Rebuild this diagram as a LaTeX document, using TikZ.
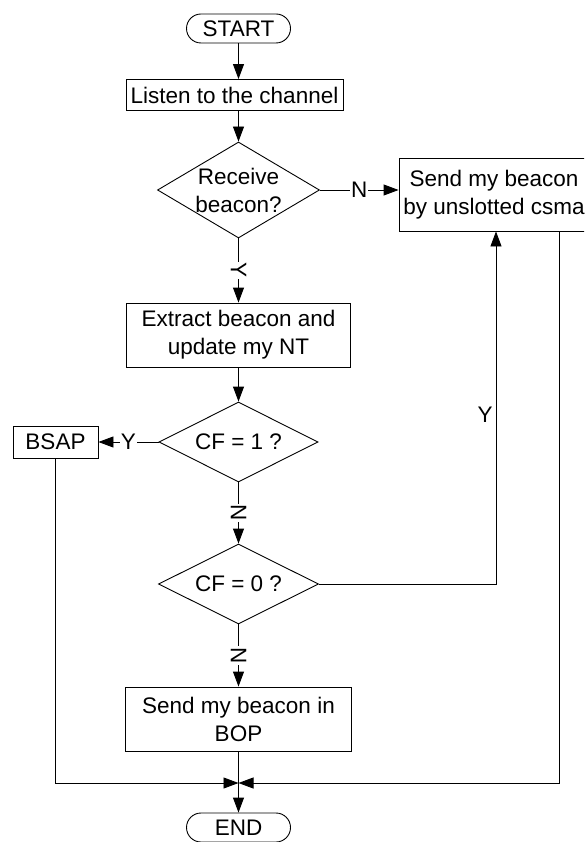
\documentclass[tikz,border=0pt]{standalone}
\usepackage{fontspec}
\setmainfont{Liberation Sans}
\usetikzlibrary{shapes.geometric,arrows.meta}
\begin{document}
\begin{tikzpicture}[x=1pt,y=-1pt,
  every node/.style={font=\fontsize{22.5}{28}\selectfont},
  box/.style={draw, line width=0.9pt, inner sep=0pt, align=center},
  term/.style={draw, line width=0.9pt, rounded corners=14.5pt, minimum width=104pt, minimum height=29pt, inner sep=0pt},
  dia/.style={draw, line width=0.9pt, diamond, inner sep=0pt},
  lbl/.style={fill=white, inner sep=1pt},
  conn/.style={line width=0.9pt},
  arr/.style={conn, -{Triangle[length=15pt,width=11pt]}}]
\useasboundingbox (0,0) rectangle (584,842);
\clip (0,0) rectangle (584,842);
\fill[white] (0,0) rectangle (584,842);

\node[term] (start) at (238.5,28.5) {START};
\node[box, minimum width=217pt, minimum height=31pt] (listen) at (234.5,95) {Listen to the channel};
\node[dia, minimum width=162pt, minimum height=96pt] (d1) at (238.5,190) {};
\node[align=center] (d1t) at (d1.center) {Receive\\beacon?};
\node[box, minimum width=190pt, minimum height=73pt] (rbox) at (494,194.5) {Send my beacon\\by unslotted csma};
\node[box, minimum width=224pt, minimum height=64pt] (extract) at (238.5,335) {Extract beacon and\\update my NT};
\node[dia, minimum width=159pt, minimum height=80pt] (d2) at (238.5,442) {};
\node (d2t) at (d2.center) {CF = 1 ?};
\node[box, minimum width=85pt, minimum height=32pt] (bsap) at (55.5,442) {BSAP};
\node[dia, minimum width=160pt, minimum height=80pt] (d3) at (238.5,584) {};
\node (d3t) at (d3.center) {CF = 0 ?};
\node[box, minimum width=226pt, minimum height=64pt] (bop) at (238.5,719) {Send my beacon in\\BOP};
\node[term] (end) at (238.5,827.5) {END};
\coordinate (junc) at (238.5,783);

\draw[arr] (start.south) -- (start.south |- listen.north);
\draw[arr] (listen.south -| d1.north) -- (d1.north);
\draw[arr] (d1.east) -- node[lbl]{N} (d1.east -| rbox.west);
\draw[arr] (d1.south) -- node[lbl, rotate=-90]{Y} (extract.north);
\draw[arr] (extract.south) -- (d2.north);
\draw[arr] (d2.west) -- node[lbl]{Y} (bsap.east);
\draw[arr] (d2.south) -- node[lbl, rotate=-90]{N} (d3.north);
\draw[arr] (d3.east) -| node[left, pos=0.74, inner sep=3pt]{Y} ([xshift=2pt]rbox.south);
\draw[arr] (d3.south) -- node[lbl, rotate=-90]{N} (bop.north);
\draw[arr] (bop.south) -- (end.north);
\draw[arr] (bsap.south) |- (junc);
\draw[arr] ([xshift=65pt]rbox.south) |- (junc);
\end{tikzpicture}
\end{document}
